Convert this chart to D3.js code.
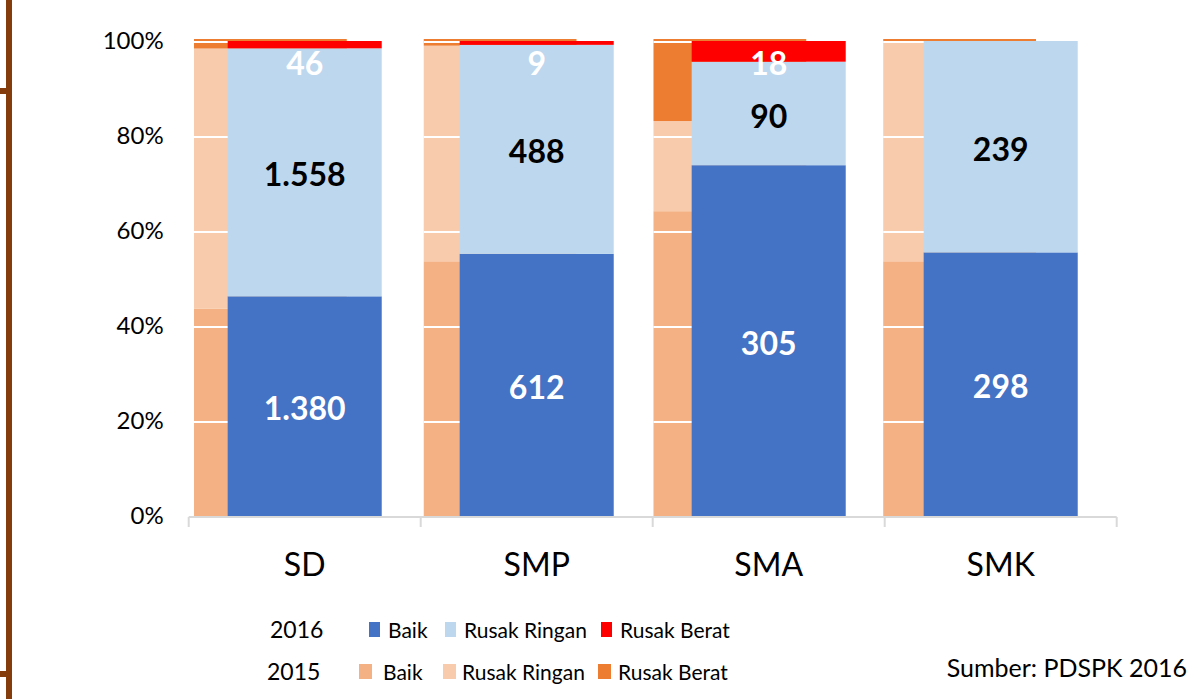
<!DOCTYPE html>
<html>
<head>
<meta charset="utf-8">
<script src="https://cdn.jsdelivr.net/npm/d3@7"></script>
<style>
    body { margin: 0; background: #fff; }
    text { font-family: Lato, "Open Sans", sans-serif; }
</style>
</head>
<body>
<script>
var categories = ["SD", "SMP", "SMA", "SMK"];

// 2016 - jumlah ruang kelas
var baik2016 = [1380, 612, 305, 298];
var ringan2016 = [1558, 488, 90, 239];
var berat2016 = [46, 9, 18, 0];

// 2015 - persentase
var baik2015 = [43.5, 53.4, 63.9, 53.4];
var ringan2015 = [54.5, 45.2, 18.9, 46.1];
var berat2015 = [2.0, 1.4, 17.2, 0.5];

var yTicks = [0, 0.2, 0.4, 0.6, 0.8, 1];
var legendYears = ["2016", "2015"];
var legendNames = ["Baik", "Rusak Ringan", "Rusak Berat"];

var colors2016 = ["#4472C4", "#BDD7EE", "#FF0000"];
var colors2015 = ["#F4B183", "#F8CBAD", "#ED7D31"];

var width = 1191, height = 699;

var svg = d3.select("body").append("svg")
    .attr("width", width)
    .attr("height", height);

// garis coklat di kiri
svg.append("rect").attr("x", 6).attr("y", 0).attr("width", 6).attr("height", height).attr("fill", "#843C0C");
svg.append("rect").attr("x", 0).attr("y", 88).attr("width", 6).attr("height", 6).attr("fill", "#843C0C");
svg.append("rect").attr("x", 0).attr("y", 671).attr("width", 6).attr("height", 6).attr("fill", "#843C0C");

var x = d3.scaleBand()
    .domain(categories)
    .range([188.7, 1116.7])
    .paddingInner(0.336)
    .paddingOuter(0.168);

var x15 = d3.scaleBand()
    .domain(categories)
    .range([194, 1036])
    .paddingInner(0.335)
    .paddingOuter(0);

var y = d3.scaleLinear().domain([0, 1]).range([516, 41]);
var y15 = d3.scaleLinear().domain([0, 1]).range([516, 39]);

// stack 2015
var rows15 = categories.map(function (c, i) {
    var t = baik2015[i] + ringan2015[i] + berat2015[i];
    return { cat: c, v: [baik2015[i] / t, ringan2015[i] / t, berat2015[i] / t] };
});

var g15 = svg.append("g");
rows15.forEach(function (r) {
    var acc = 0;
    r.v.forEach(function (v, k) {
        g15.append("rect")
            .attr("x", x15(r.cat))
            .attr("width", x15.bandwidth())
            .attr("y", y15(acc + v))
            .attr("height", y15(acc) - y15(acc + v))
            .attr("fill", colors2015[k]);
        acc += v;
    });
});

// garis grid putih di atas batang 2015
yTicks.forEach(function (t) {
    if (t === 0) return;
    categories.forEach(function (c) {
        g15.append("rect")
            .attr("x", x15(c))
            .attr("width", x15.bandwidth())
            .attr("y", y(t))
            .attr("height", 2)
            .attr("fill", "#fff");
    });
});

// stack 2016
var rows16 = categories.map(function (c, i) {
    return { cat: c, n: [baik2016[i], ringan2016[i], berat2016[i]] };
});

var g16 = svg.append("g");
var labelColors = ["#fff", "#000", "#fff"];
rows16.forEach(function (r) {
    var total = d3.sum(r.n);
    var acc = 0;
    r.n.forEach(function (n, k) {
        var v = n / total;
        if (v > 0) {
            g16.append("rect")
                .attr("x", x(r.cat))
                .attr("width", x.bandwidth())
                .attr("y", y(acc + v))
                .attr("height", y(acc) - y(acc + v))
                .attr("fill", colors2016[k]);

            var cy = (y(acc) + y(acc + v)) / 2;
            cy = Math.max(cy, y(1) + 20);
            g16.append("text")
                .attr("x", x(r.cat) + x.bandwidth() / 2)
                .attr("y", cy)
                .attr("dy", "0.44em")
                .attr("text-anchor", "middle")
                .attr("fill", labelColors[k])
                .style("font-size", "32px")
                .style("font-weight", "bold")
                .text(d3.format(",")(n).replace(/,/g, "."));
        }
        acc += v;
    });
});

// sumbu y
var yAxis = svg.append("g")
    .attr("transform", "translate(188.7,0)")
    .call(d3.axisLeft(y).tickValues(yTicks).tickFormat(d3.format(".0%")).tickSize(0).tickPadding(25));
yAxis.select(".domain").remove();
yAxis.selectAll("text")
    .style("font-size", "24px")
    .style("font-family", "Lato, 'Open Sans', sans-serif")
    .attr("fill", "#000");

// sumbu x
svg.append("line")
    .attr("x1", x.range()[0]).attr("x2", x.range()[1])
    .attr("y1", 517).attr("y2", 517)
    .attr("stroke", "#D9D9D9").attr("stroke-width", 2);

d3.range(categories.length + 1).forEach(function (i) {
    var xx = x.range()[0] + i * x.step();
    svg.append("line")
        .attr("x1", xx).attr("x2", xx)
        .attr("y1", 517).attr("y2", 527)
        .attr("stroke", "#D9D9D9").attr("stroke-width", 2);
});

var xAxis = svg.append("g")
    .attr("transform", "translate(0,517)")
    .call(d3.axisBottom(x).tickSize(0).tickPadding(36));
xAxis.select(".domain").remove();
xAxis.selectAll("text")
    .style("font-size", "32px")
    .style("font-family", "Lato, 'Open Sans', sans-serif")
    .attr("fill", "#000");

// legenda
var legendRowsY = [630, 672];
var legendSquareX = [[369, 445, 601], [359, 443, 598]];
var legendTextX = [[388, 464, 620], [383, 462, 618]];
var legendColors = [colors2016, colors2015];

legendYears.forEach(function (yr, r) {
    svg.append("text")
        .attr("x", r === 0 ? 270 : 267)
        .attr("y", legendRowsY[r])
        .attr("dy", "0.36em")
        .style("font-size", "23px")
        .text(yr);

    legendNames.forEach(function (name, k) {
        svg.append("rect")
            .attr("x", legendSquareX[r][k])
            .attr("y", legendRowsY[r] - 8)
            .attr("width", r === 0 ? 11 : 13)
            .attr("height", 15)
            .attr("fill", legendColors[r][k]);
        svg.append("text")
            .attr("x", legendTextX[r][k])
            .attr("y", legendRowsY[r])
            .attr("dy", "0.36em")
            .style("font-size", "21px")
            .text(name);
    });
});

svg.append("text")
    .attr("x", 1187)
    .attr("y", 668)
    .attr("dy", "0.36em")
    .attr("text-anchor", "end")
    .style("font-size", "25px")
    .text("Sumber: PDSPK 2016");
</script>
</body>
</html>
